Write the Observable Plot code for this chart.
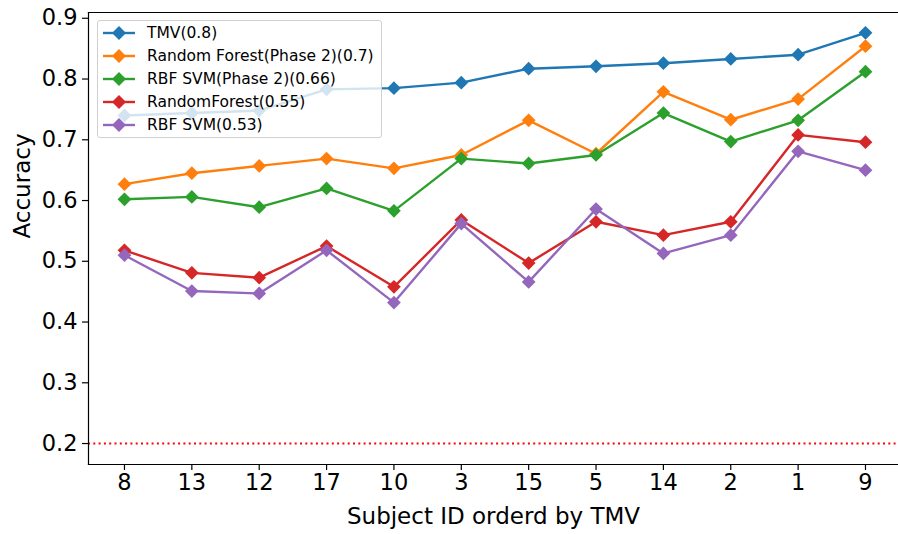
<!DOCTYPE html>
<html>
<head>
<meta charset="utf-8">
<script src="https://cdn.jsdelivr.net/npm/d3@7"></script>
<script src="https://cdn.jsdelivr.net/npm/@observablehq/plot@0.6"></script>
<style>
  html, body { margin: 0; padding: 0; background: white; overflow: hidden; }
  #wrap { position: relative; width: 898px; height: 534px; font-family: "DejaVu Sans", sans-serif; }
  #legend { position: absolute; left: 97px; top: 20px; width: 285px; height: 118px;
    background: rgba(255,255,255,0.8); border: 1px solid #d0d0d0; border-radius: 3px; box-sizing: border-box; }
  .row { position: absolute; left: 0; height: 22px; display: flex; align-items: center; }
  .row span { font-size: 15.5px; color: #000; margin-left: 11px; white-space: nowrap; }
</style>
</head>
<body>
<div id="wrap"><div id="legend"></div></div>
<script>
const subjects = ["8", "13", "12", "17", "10", "3", "15", "5", "14", "2", "1", "9"];
const seriesNames = ["TMV(0.8)", "Random Forest(Phase 2)(0.7)", "RBF SVM(Phase 2)(0.66)", "RandomForest(0.55)", "RBF SVM(0.53)"];
const seriesColors = ["#1f77b4", "#ff7f0e", "#2ca02c", "#d62728", "#9467bd"];
const tmv      = [0.740, 0.744, 0.748, 0.783, 0.785, 0.794, 0.817, 0.821, 0.826, 0.833, 0.840, 0.876];
const rfPhase2 = [0.627, 0.645, 0.657, 0.669, 0.653, 0.675, 0.732, 0.677, 0.779, 0.733, 0.767, 0.854];
const svmPhase2= [0.602, 0.606, 0.589, 0.620, 0.583, 0.669, 0.661, 0.675, 0.744, 0.697, 0.732, 0.812];
const rf       = [0.518, 0.481, 0.473, 0.525, 0.458, 0.568, 0.497, 0.565, 0.543, 0.565, 0.708, 0.696];
const svm      = [0.510, 0.451, 0.447, 0.518, 0.432, 0.562, 0.466, 0.586, 0.513, 0.543, 0.681, 0.650];
const chance = 0.2;
const yTicks = [0.2, 0.3, 0.4, 0.5, 0.6, 0.7, 0.8, 0.9];

const allSeries = [tmv, rfPhase2, svmPhase2, rf, svm];
const data = [];
allSeries.forEach((vals, s) => vals.forEach((v, i) => data.push({i, v, series: seriesNames[s]})));

const marks = [
  Plot.ruleY([chance], {stroke: "#ff0000", strokeWidth: 2, strokeDasharray: "2,3.3"})
];
seriesNames.forEach(name => {
  const d = data.filter(r => r.series === name);
  marks.push(Plot.line(d, {x: "i", y: "v", stroke: "series", strokeWidth: 2.4}));
  marks.push(Plot.dot(d, {x: "i", y: "v", fill: "series", symbol: "diamond2", r: 6.2, stroke: "none"}));
});
marks.push(
  Plot.frame({anchor: "left", stroke: "black", strokeWidth: 1.2}),
  Plot.frame({anchor: "top", stroke: "black", strokeWidth: 1.2}),
  Plot.frame({anchor: "bottom", stroke: "black", strokeWidth: 1.2}),
  Plot.axisY({ticks: yTicks, tickFormat: d => d.toFixed(1), tickSize: 6, tickPadding: 5, label: null, fontSize: 22.5, strokeWidth: 1.2}),
  Plot.axisX({ticks: d3.range(subjects.length), tickFormat: i => subjects[i], tickSize: 6, tickPadding: 4, label: null, fontSize: 22.5, strokeWidth: 1.2}),
  Plot.text(["Accuracy"], {frameAnchor: "left", dx: -66, rotate: -90, fontSize: 23, lineAnchor: "middle"}),
  Plot.text(["Subject ID orderd by TMV"], {frameAnchor: "bottom", dy: 52, fontSize: 23, lineAnchor: "middle"})
);

const chart = Plot.plot({
  width: 898, height: 534,
  marginLeft: 88, marginRight: 0, marginTop: 12, marginBottom: 70,
  x: {type: "linear", domain: [-0.534, 11.49]},
  y: {domain: [0.1655, 0.9095]},
  color: {domain: seriesNames, range: seriesColors},
  style: {fontFamily: "DejaVu Sans", fontSize: "20px", color: "black", background: "white"},
  marks
});
document.getElementById("wrap").prepend(chart);

const legend = document.getElementById("legend");
seriesNames.forEach((name, k) => {
  const row = document.createElement("div");
  row.className = "row";
  row.style.top = (1 + k * 23) + "px";
  row.style.left = "4px";
  row.innerHTML = `<svg width="34" height="16"><line x1="1" y1="8" x2="33" y2="8" stroke="${seriesColors[k]}" stroke-width="2.4"/><path d="M17,1 L24,8 L17,15 L10,8 Z" fill="${seriesColors[k]}"/></svg><span>${name}</span>`;
  legend.appendChild(row);
});
</script>
</body>
</html>
